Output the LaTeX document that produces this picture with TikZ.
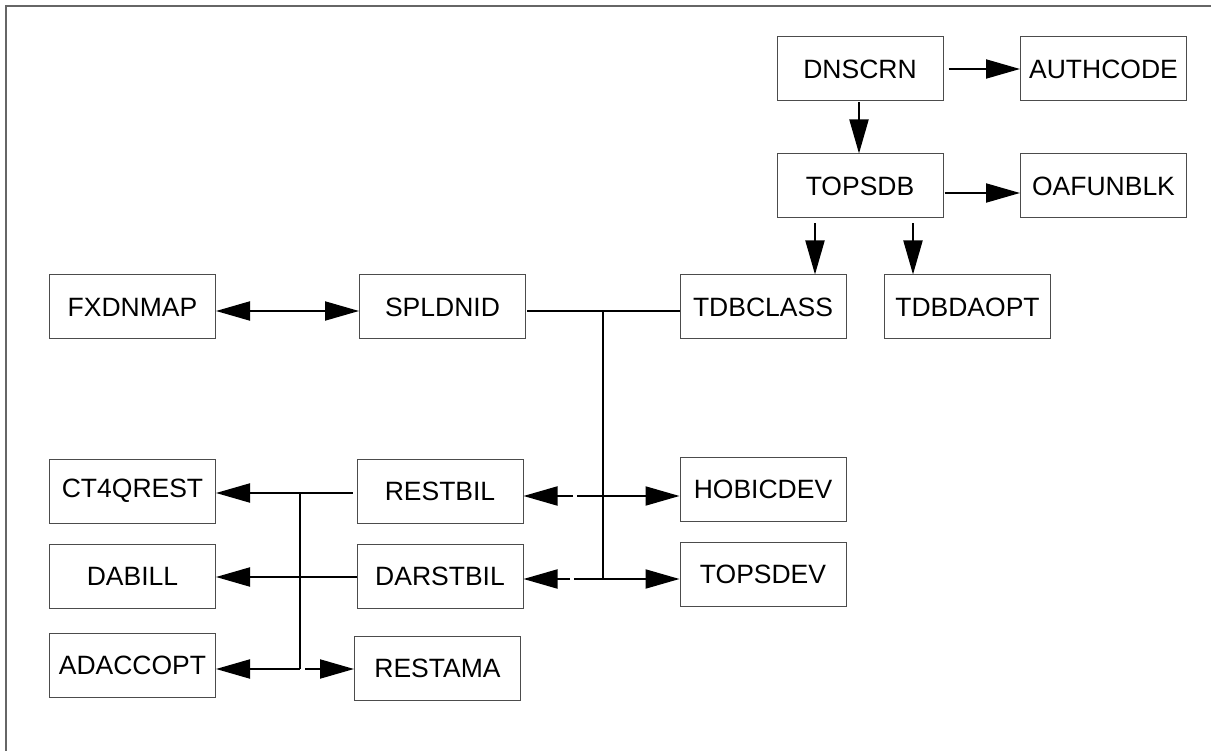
\documentclass[tikz,border=0pt]{standalone}
\usepackage{fontspec}
\setmainfont{Liberation Sans}
\usetikzlibrary{arrows.meta}
\begin{document}
\begin{tikzpicture}[x=1pt,y=-1pt,
  box/.style={draw=black!70,line width=1pt,rectangle,minimum width=166pt,minimum height=64pt,inner sep=0pt,font=\fontsize{26.5}{30}\selectfont},
  conn/.style={line width=2pt,black},
  arr/.style={conn,-{Triangle[length=34pt,width=19pt]}},
  darr/.style={conn,{Triangle[length=34pt,width=19pt]}-{Triangle[length=34pt,width=19pt]}}]
\useasboundingbox (0,0) rectangle (1211,751);
\draw[black!60,line width=1.6pt] (6,751) -- (6,6) -- (1211,6);
% nodes
\node[box] (dnscrn) at (860,69) {\raisebox{-2pt}{DNSCRN}};
\node[box] (authcode) at (1103.5,69) {\raisebox{-2pt}{AUTHCODE}};
\node[box] (topsdb) at (860,186) {\raisebox{-2pt}{TOPSDB}};
\node[box] (oafunblk) at (1103.5,186) {\raisebox{-2pt}{OAFUNBLK}};
\node[box] (tdbclass) at (763,307) {\raisebox{-2pt}{TDBCLASS}};
\node[box] (tdbdaopt) at (967.5,307) {\raisebox{-2pt}{TDBDAOPT}};
\node[box] (fxdnmap) at (132.5,307) {\raisebox{-2pt}{FXDNMAP}};
\node[box] (spldnid) at (442.5,307) {\raisebox{-2pt}{SPLDNID}};
\node[box] (ct4qrest) at (132.5,491) {\raisebox{-2pt}{CT4QREST}};
\node[box] (restbil) at (440,491) {\raisebox{-2pt}{RESTBIL}};
\node[box] (hobicdev) at (763,489) {\raisebox{-2pt}{HOBICDEV}};
\node[box] (dabill) at (132.5,576) {\raisebox{-2pt}{DABILL}};
\node[box] (darstbil) at (440,576) {\raisebox{-2pt}{DARSTBIL}};
\node[box] (topsdev) at (763,574) {\raisebox{-2pt}{TOPSDEV}};
\node[box] (adaccopt) at (132.5,665) {\raisebox{-2pt}{ADACCOPT}};
\node[box] (restama) at (437.5,668.5) {\raisebox{-2pt}{RESTAMA}};
% coordinates
\coordinate (j1) at (603,311);
\coordinate (j2) at (603,496);
\coordinate (j3) at (603,579);
\coordinate (g1) at (577,496);
\coordinate (g2) at (573,496);
\coordinate (g3) at (574,579);
\coordinate (g4) at (570,579);
\coordinate (k1) at (300,493);
\coordinate (k3) at (300,669);
\coordinate (k4) at (305,669);
% top connectors
\draw[arr] ([xshift=5pt]dnscrn.east) -- (authcode.west);
\draw[arr] ([xshift=-1pt,yshift=-1pt]dnscrn.south) -- ([xshift=-1pt]topsdb.north);
\draw[arr] ([xshift=1pt,yshift=-7pt]topsdb.east) -- ([yshift=-7pt]oafunblk.west);
\draw[arr] ([xshift=-45pt,yshift=-5pt]topsdb.south) -- ([xshift=52pt]tdbclass.north);
\draw[arr] ([xshift=53pt,yshift=-5pt]topsdb.south) -- ([xshift=-54.5pt]tdbdaopt.north);
% middle
\draw[darr] ([yshift=-4pt]fxdnmap.east) -- ([yshift=-4pt]spldnid.west);
\draw[conn] ([xshift=1pt,yshift=-4pt]spldnid.east) -- (j1) -- ([yshift=-4pt]tdbclass.west);
\draw[conn] (j1) -- (j3);
\draw[arr] (j2) -- ([yshift=-7pt]hobicdev.west);
\draw[conn] (j2) -- (g1);
\draw[arr] (g2) -- ([yshift=-5pt]restbil.east);
\draw[arr] (j3) -- ([yshift=-5pt]topsdev.west);
\draw[conn] (j3) -- (g3);
\draw[arr] (g4) -- ([yshift=-3pt]darstbil.east);
% left
\draw[arr] ([xshift=-4pt,yshift=-2pt]restbil.west) -- ([yshift=-2pt]ct4qrest.east);
\draw[conn] (k1) -- (k3);
\draw[arr] ([yshift=-1pt]darstbil.west) -- ([yshift=-1pt]dabill.east);
\draw[arr] (k3) -- ([yshift=-4pt]adaccopt.east);
\draw[arr] (k4) -- ([yshift=-0.5pt]restama.west);
\end{tikzpicture}
\end{document}
